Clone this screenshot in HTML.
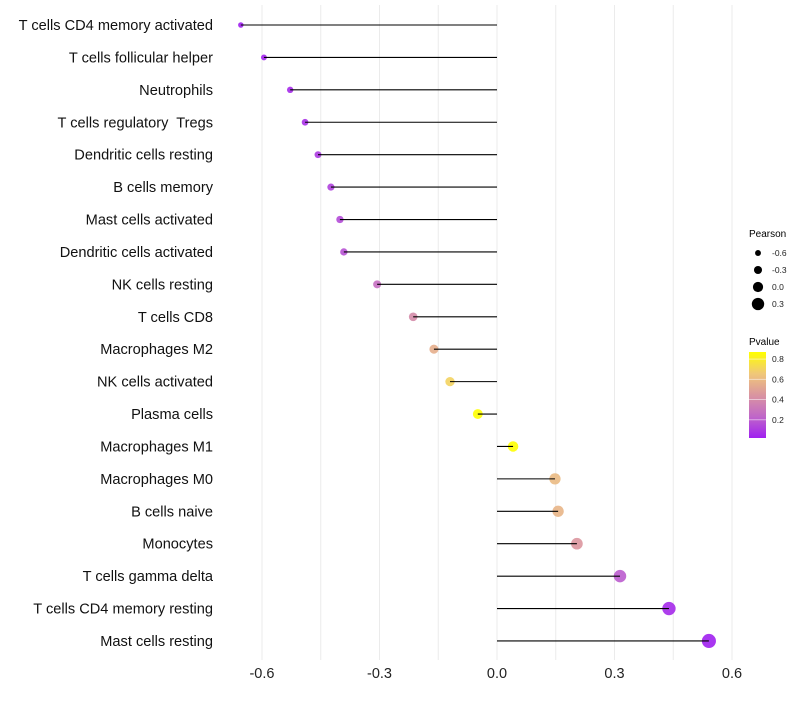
<!DOCTYPE html>
<html><head><meta charset="utf-8"><style>
body{margin:0;background:#fff;font-family:"Liberation Sans",sans-serif}
text{white-space:pre}
</style></head><body>
<svg id="chart" width="800" height="700" xmlns="http://www.w3.org/2000/svg" font-family="Liberation Sans, sans-serif">
<g id="grid"></g>
<g id="marks"></g>
<g id="ylabels"></g>
<g id="xlabels"></g>
<g>
<text x="749" y="237" font-size="10">Pearson</text>
<g id="sizeLegend"></g>
</g>
<g>
<text x="749" y="345" font-size="10">Pvalue</text>
<defs><linearGradient id="pg" x1="0" y1="1" x2="0" y2="0">
<stop offset="0" stop-color="#A020F0"/><stop offset="0.25" stop-color="#C067C8"/><stop offset="0.5" stop-color="#DA95A0"/><stop offset="0.75" stop-color="#F0C878"/><stop offset="1" stop-color="#FFFF00"/></linearGradient></defs>
<rect x="749" y="352" width="17" height="86" fill="url(#pg)"/>
<g id="colorTicks"></g>
</g>
</svg>
<script>
const categories=["T cells CD4 memory activated","T cells follicular helper","Neutrophils","T cells regulatory  Tregs","Dendritic cells resting","B cells memory","Mast cells activated","Dendritic cells activated","NK cells resting","T cells CD8","Macrophages M2","NK cells activated","Plasma cells","Macrophages M1","Macrophages M0","B cells naive","Monocytes","T cells gamma delta","T cells CD4 memory resting","Mast cells resting"];
const pearson=[-0.654,-0.595,-0.528,-0.49,-0.457,-0.424,-0.401,-0.391,-0.306,-0.214,-0.161,-0.12,-0.049,0.041,0.148,0.156,0.204,0.314,0.439,0.541];
const pvalue=[0.02,0.03,0.05,0.07,0.1,0.12,0.15,0.17,0.27,0.4,0.55,0.7,0.9,0.88,0.6,0.58,0.45,0.2,0.05,0.02];
const xTicks=[-0.6,-0.3,0.0,0.3,0.6];
const xTickLabels=["-0.6","-0.3","0.0","0.3","0.6"];
const sizeLegendVals=[-0.6,-0.3,0.0,0.3];
const colorTickVals=[0.2,0.4,0.6,0.8];
const NS="http://www.w3.org/2000/svg";
const X=v=>497+v*391.7;
const Y=i=>25+i*32.42;
const R=p=>Math.max(1.5,5.1+3.6*p);
const stops=[[0,[160,32,240]],[0.25,[192,103,200]],[0.5,[218,149,160]],[0.75,[240,200,120]],[1,[255,255,0]]];
function col(p){let t=Math.min(1,Math.max(0,(p-0.02)/0.85));for(let k=1;k<stops.length;k++){if(t<=stops[k][0]){const a=stops[k-1],b=stops[k];const f=(t-a[0])/(b[0]-a[0]);return `rgb(${a[1].map((c,j)=>Math.round(c+(b[1][j]-c)*f)).join(",")})`;}}return "rgb(255,255,0)";}
function el(tag,attrs,parent){const e=document.createElementNS(NS,tag);for(const k in attrs)e.setAttribute(k,attrs[k]);parent.appendChild(e);return e;}
const grid=document.getElementById('grid'),marks=document.getElementById('marks'),yl=document.getElementById('ylabels'),xl=document.getElementById('xlabels');
for(let v=-0.6;v<=0.61;v+=0.15){const g=el('line',{x1:X(v),x2:X(v),y1:5,y2:660,stroke:'#ebebeb','stroke-width':1},grid);

}
xTicks.forEach((v,i)=>{const t=el('text',{x:X(v),y:678,'font-size':14.5,'text-anchor':'middle',fill:'#222'},xl);t.textContent=xTickLabels[i];

});
categories.forEach((c,i)=>{
const d=el('circle',{cx:X(pearson[i]),cy:Y(i),r:R(pearson[i]),fill:col(pvalue[i]),'fill-opacity':0.9},marks);


const t=el('text',{x:213,y:Y(i)+5,'font-size':14.6,'text-anchor':'end',fill:'#111'},yl);t.textContent=c;

});
categories.forEach((c,i)=>{
const l=el('line',{x1:X(0),x2:X(pearson[i]),y1:Y(i),y2:Y(i),stroke:'#000','stroke-width':1.1},marks);

});
const sl=document.getElementById('sizeLegend');
sizeLegendVals.forEach((v,i)=>{const y=253+i*17;
const c=el('circle',{cx:758,cy:y,r:R(v),fill:'#000'},sl);


const t=el('text',{x:772,y:y+3,'font-size':8.5,fill:'#222'},sl);t.textContent=v.toFixed(1);

});
const ct=document.getElementById('colorTicks');
colorTickVals.forEach(v=>{const y=438-(v-0.02)/0.85*86;
const ln=el('line',{x1:749,x2:766,y1:y,y2:y,stroke:'#fff','stroke-opacity':0.5},ct);


const t=el('text',{x:772,y:y+3,'font-size':8.5,fill:'#222'},ct);t.textContent=v.toFixed(1);

});
</script>
</body></html>
